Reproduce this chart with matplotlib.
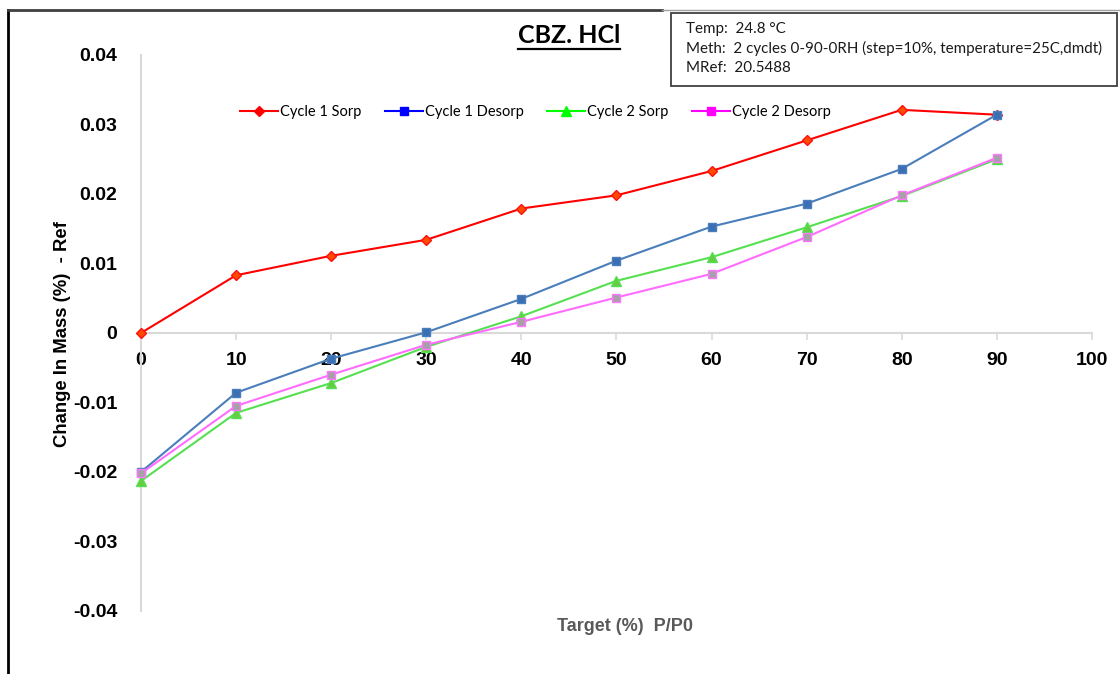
import matplotlib
matplotlib.use("Agg")
import matplotlib.pyplot as plt
from matplotlib.lines import Line2D
from matplotlib.patches import Rectangle

# Valeurs lues : humidité cible (%) et variation de masse (%)
target = [0, 10, 20, 30, 40, 50, 60, 70, 80, 90]
c1_sorp = [0.0, 0.0083, 0.0111, 0.0134, 0.0179, 0.0198, 0.0233, 0.0277, 0.0321, 0.0314]
c1_desorp = [-0.0200, -0.0086, -0.0037, 0.0001, 0.0049, 0.0104, 0.0153, 0.0186, 0.0236, 0.0314]
c2_sorp = [-0.0213, -0.0115, -0.0072, -0.0020, 0.0024, 0.0075, 0.0109, 0.0152, 0.0197, 0.0250]
c2_desorp = [-0.0202, -0.0105, -0.0060, -0.0017, 0.0016, 0.0051, 0.0085, 0.0138, 0.0198, 0.0252]

x_ticks = [0, 10, 20, 30, 40, 50, 60, 70, 80, 90, 100]
y_ticks = [-0.04, -0.03, -0.02, -0.01, 0, 0.01, 0.02, 0.03, 0.04]
y_labels = ["-0.04", "-0.03", "-0.02", "-0.01", "0", "0.01", "0.02", "0.03", "0.04"]

info_lines = ["Temp:  24.8 \u00b0C",
              "Meth:  2 cycles 0-90-0RH (step=10%, temperature=25C,dmdt)",
              "MRef:  20.5488"]

fig = plt.figure(figsize=(11.2, 6.74), dpi=100)
ax = fig.add_axes([0.1259, 0.0935, 0.849, 0.825])

# courbes (couleur du trait, marqueur, remplissage, bord)
series = [
    (c1_sorp, "#FF0000", "D", "#FF4A00", "#FF1010", 5),
    (c1_desorp, "#4A7EBB", "s", "#3C6EB4", "#4A7EBB", 6),
    (c2_sorp, "#55E050", "^", "#66CC44", "#55E050", 7),
    (c2_desorp, "#FF6CFF", "s", "#A8A0A8", "#FF77FF", 6),
]
for vals, col, mk, fc, ec, ms in series:
    ax.plot(target, vals, color=col, lw=1.5, marker=mk, markersize=ms,
            markerfacecolor=fc, markeredgecolor=ec, markeredgewidth=1.0,
            clip_on=False, zorder=3)

ax.set_xlim(0, 100)
ax.set_ylim(-0.04, 0.04)

# axes au centre, gris clair
for s in ["top", "right"]:
    ax.spines[s].set_visible(False)
ax.spines["left"].set_position(("data", 0))
ax.spines["bottom"].set_position(("data", 0))
ax.spines["left"].set_color("#D9D9D9")
ax.spines["bottom"].set_color("#D9D9D9")
ax.spines["left"].set_linewidth(1.5)
ax.spines["bottom"].set_linewidth(1.5)

ax.set_xticks(x_ticks)
ax.set_xticklabels([str(v) for v in x_ticks], fontsize=14, fontweight="bold",
                   family="Liberation Sans")
ax.tick_params(axis="x", direction="out", length=5, width=1.2, color="#D9D9D9", pad=9)

ax.set_yticks(y_ticks)
ax.set_yticklabels(y_labels, fontsize=14, fontweight="bold", family="Liberation Sans")
ax.tick_params(axis="y", length=0, pad=17)

fig.text(0.056, 0.505, "Change In Mass (%)  - Ref", rotation=90, ha="center", va="center",
         fontsize=13.3, fontweight="bold", family="Liberation Sans")
fig.text(0.558, 0.071, "Target (%)  P/P0", ha="center", va="center", color="#595959",
         fontsize=13, fontweight="bold", family="Liberation Sans")

# légende avec les couleurs pures
handles = [
    Line2D([], [], color="#FF0000", marker="D", markersize=5, lw=1.5),
    Line2D([], [], color="#0000FF", marker="s", markersize=6, lw=1.5),
    Line2D([], [], color="#00FF00", marker="^", markersize=7, lw=1.5),
    Line2D([], [], color="#FF00FF", marker="s", markersize=6, lw=1.5),
]
names = ["Cycle 1 Sorp", "Cycle 1 Desorp", "Cycle 2 Sorp", "Cycle 2 Desorp"]
fig.legend(handles, names, loc="center", bbox_to_anchor=(0.478, 0.834), ncol=4,
           frameon=False, prop={"family": "Lato", "size": 10.5},
           handlelength=2.6, handletextpad=0.15, columnspacing=1.6)

# titre souligné
title = fig.text(0.508, 0.947, "CBZ. HCl", ha="center", va="center",
                 fontsize=18, fontweight="bold", family="Lato")
fig.canvas.draw()
bb = title.get_window_extent().transformed(fig.transFigure.inverted())
fig.add_artist(Line2D([bb.x0, bb.x1], [bb.y0 - 0.002, bb.y0 - 0.002], color="black",
                      lw=1.6, transform=fig.transFigure))

# cadre des conditions de mesure
fig.add_artist(Rectangle((671 / 1120, 1 - 86 / 674), (1117 - 671) / 1120, (86 - 13) / 674,
                         transform=fig.transFigure, fill=False, edgecolor="#404040", lw=1.3))
for i, line in enumerate(info_lines):
    fig.text(686 / 1120, 1 - (29 + 19.5 * i) / 674, line, ha="left", va="center",
             fontsize=10.9, family="Lato", color="#1A1A1A")

# bordure de la zone graphique
fig.add_artist(Line2D([8 / 1120, 8 / 1120], [0, 1 - 10 / 674], color="black", lw=2,
                      transform=fig.transFigure))
fig.add_artist(Line2D([8 / 1120, 662 / 1120], [1 - 10 / 674, 1 - 10 / 674], color="#404040",
                      lw=2, transform=fig.transFigure))
fig.add_artist(Line2D([662 / 1120, 1], [1 - 10 / 674, 1 - 10 / 674], color="#A0A0A0",
                      lw=1, transform=fig.transFigure))

fig.savefig("out.png", dpi=100)
